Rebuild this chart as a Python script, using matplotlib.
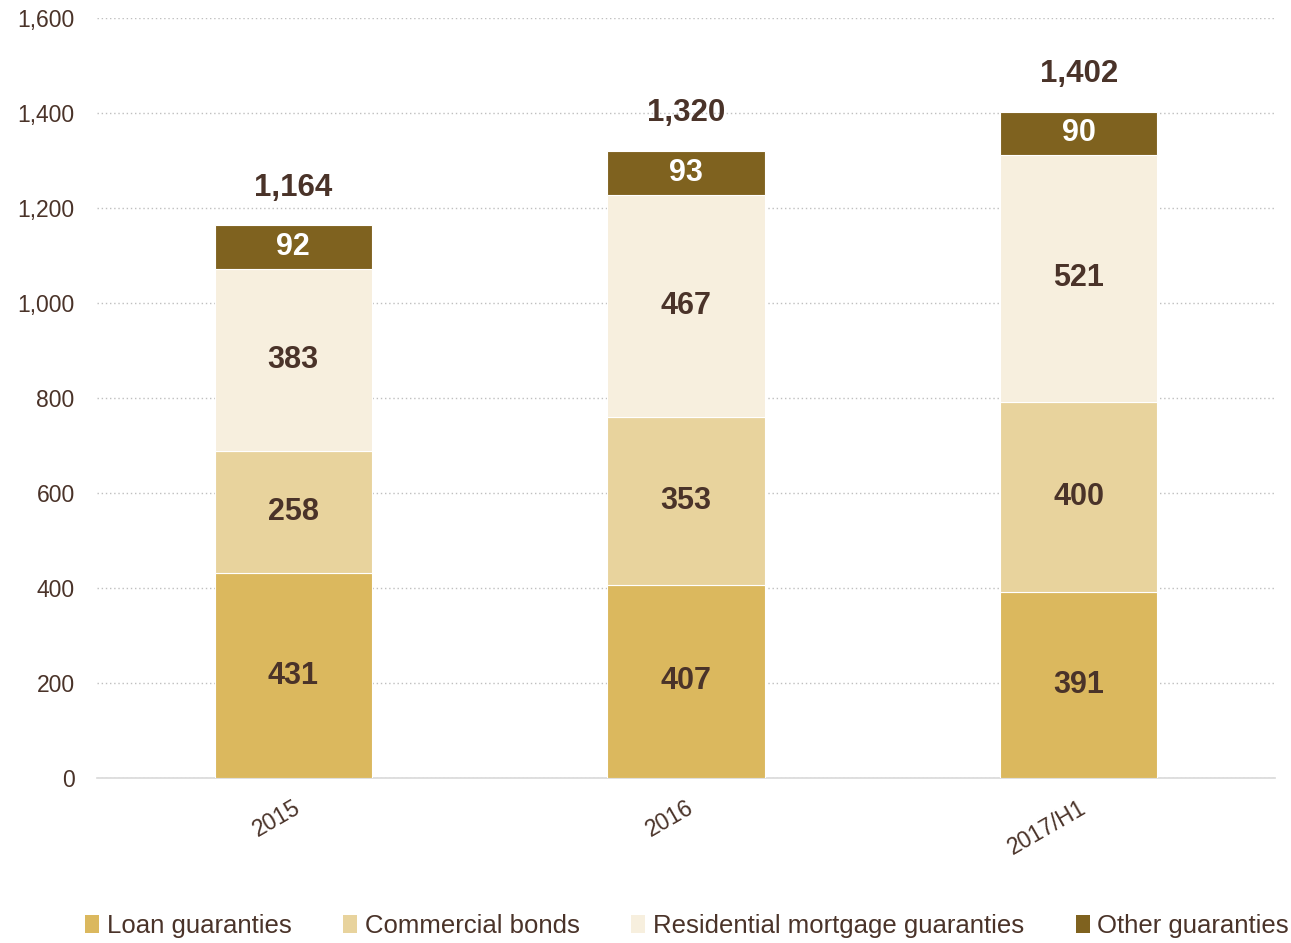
import matplotlib.pyplot as plt
from matplotlib.patches import Patch
import numpy as np

plt.rcParams['font.family'] = ['Liberation Sans', 'DejaVu Sans']

periods = ["2015", "2016", "2017/H1"]
series_names = ["Loan guaranties", "Commercial bonds",
                "Residential mortgage guaranties", "Other guaranties"]
loan = [431, 407, 391]
commercial = [258, 353, 400]
residential = [383, 467, 521]
other = [92, 93, 90]
totals = [1164, 1320, 1402]
yticks = [0, 200, 400, 600, 800, 1000, 1200, 1400, 1600]

colors = ["#DBB85E", "#E8D39D", "#F7EFDE", "#7F621F"]
label_colors = ["#4A3329", "#4A3329", "#4A3329", "#FFFFFF"]
text_color = "#4A3329"

fig = plt.figure(figsize=(12.91, 9.43), dpi=100)
ax = fig.add_axes([0.0751, 0.175, 0.9125, 0.806])

x = np.arange(len(periods))
bottom = np.zeros(len(periods))
for vals, col, lcol in zip([loan, commercial, residential, other], colors, label_colors):
    vals = np.array(vals, dtype=float)
    ax.bar(x, vals, bottom=bottom, width=0.4, color=col,
           edgecolor="white", linewidth=0.8, zorder=3)
    for xi, b, v in zip(x, bottom, vals):
        ax.text(xi, b + v / 2, f"{int(v)}", ha="center", va="center",
                fontsize=22, fontweight="bold", color=lcol, zorder=4)
    bottom += vals

for xi, t in zip(x, totals):
    ax.annotate(f"{t:,}", xy=(xi, t), xytext=(0, 27), textcoords="offset points",
                ha="center", va="center", fontsize=22.5, fontweight="bold",
                color=text_color)

ax.set_xlim(-0.5, 2.5)
ax.set_ylim(0, 1600)
ax.set_yticks(yticks)
ax.set_yticklabels([f"{v:,}" for v in yticks], fontsize=16.5, color=text_color)
ax.yaxis.grid(True, linestyle=(0, (1, 2)), color="#BFBFBF", linewidth=1, zorder=0)
ax.set_axisbelow(True)
ax.tick_params(axis="y", length=0, pad=16)
ax.tick_params(axis="x", length=0, pad=13)
ax.set_xticks(x)
ax.set_xticklabels(periods, fontsize=16.5, color=text_color, rotation=30,
                   ha="right", rotation_mode="anchor")

for side in ["top", "right", "left"]:
    ax.spines[side].set_visible(False)
ax.spines["bottom"].set_color("#D9D9D9")
ax.spines["bottom"].set_linewidth(1.2)

handles = [Patch(facecolor=c, edgecolor="none") for c in colors]
fig.legend(handles, series_names, loc="center left", bbox_to_anchor=(0.058, 0.018),
           ncol=4, frameon=False, fontsize=18.5, labelcolor=text_color,
           handlelength=0.55, handleheight=0.65, handletextpad=0.3,
           columnspacing=2.0, borderaxespad=0)

fig.savefig("out.png", dpi=100)
